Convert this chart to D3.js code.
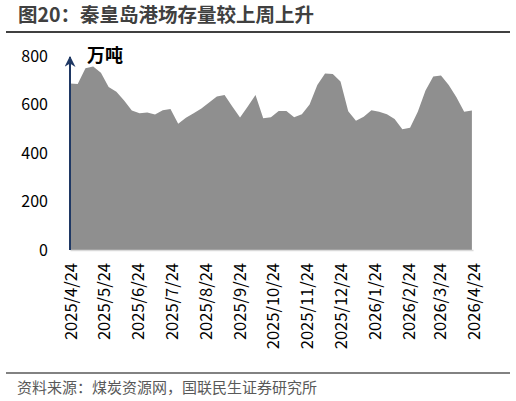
<!DOCTYPE html>
<html>
<head>
<meta charset="utf-8">
<script src="https://cdn.jsdelivr.net/npm/d3@7"></script>
<style>
  body { margin: 0; background: #fff; }
  svg { display: block; font-family: "Noto Sans CJK SC", "Noto Sans", sans-serif; }
</style>
</head>
<body>
<svg id="chart" width="516" height="401"></svg>
<script>
// weekly port stock, 10k tonnes
const weeks = [
  '2025-04-24', '2025-05-01', '2025-05-08', '2025-05-15', '2025-05-22', '2025-05-29',
  '2025-06-05', '2025-06-12', '2025-06-19', '2025-06-26', '2025-07-03', '2025-07-10',
  '2025-07-17', '2025-07-24', '2025-07-31', '2025-08-07', '2025-08-14', '2025-08-21',
  '2025-08-28', '2025-09-04', '2025-09-11', '2025-09-18', '2025-09-25', '2025-10-02',
  '2025-10-09', '2025-10-16', '2025-10-23', '2025-10-30', '2025-11-06', '2025-11-13',
  '2025-11-20', '2025-11-27', '2025-12-04', '2025-12-11', '2025-12-18', '2025-12-25',
  '2026-01-01', '2026-01-08', '2026-01-15', '2026-01-22', '2026-01-29', '2026-02-05',
  '2026-02-12', '2026-02-19', '2026-02-26', '2026-03-05', '2026-03-12', '2026-03-19',
  '2026-03-26', '2026-04-02', '2026-04-09', '2026-04-16', '2026-04-23',
];
const stock = [
  687, 685, 750, 757, 731, 672, 653, 616, 575, 564, 567, 559,
  576, 581, 521, 545, 564, 584, 608, 633, 639, 592, 546, 592,
  639, 543, 547, 573, 573, 547, 560, 600, 680, 728, 726, 695,
  572, 533, 550, 576, 570, 560, 540, 498, 504, 570, 658, 715,
  720, 680, 630, 570, 575,
];
const monthTicks = [
  '2025-04-24', '2025-05-24', '2025-06-24', '2025-07-24', '2025-08-24', '2025-09-24',
  '2025-10-24', '2025-11-24', '2025-12-24', '2026-01-24', '2026-02-24', '2026-03-24',
  '2026-04-24',
];
const yTicks = [0, 200, 400, 600, 800];

const parse = d3.timeParse('%Y-%m-%d');
const data = weeks.map((d, i) => ({ date: parse(d), value: stock[i] }));

const svg = d3.select('#chart');
const plot = { left: 70, right: 473, top: 56, bottom: 250 };

const x = d3.scaleTime()
  .domain([parse(monthTicks[0]), parse(monthTicks[monthTicks.length - 1])])
  .range([plot.left, plot.right]);
const y = d3.scaleLinear().domain([0, 800]).range([plot.bottom, plot.top]);

// title
svg.append('text')
  .attr('x', 18).attr('y', 22)
  .attr('font-size', 19.5).attr('font-weight', 'bold').attr('fill', '#404040')
  .text('图20：秦皇岛港场存量较上周上升');
svg.append('line')
  .attr('x1', 6).attr('x2', 510).attr('y1', 32).attr('y2', 32)
  .attr('stroke', '#404040').attr('stroke-width', 2);

// area
const area = d3.area()
  .x(d => x(d.date))
  .y0(y(0))
  .y1(d => y(d.value));
svg.append('path')
  .datum(data)
  .attr('d', area)
  .attr('fill', '#8f8f8f');

// x axis
const xAxis = d3.axisBottom(x)
  .tickValues(monthTicks.map(parse))
  .tickFormat(d3.timeFormat('%Y/%-m/%-d'))
  .tickSize(0)
  .tickSizeOuter(0);
const gx = svg.append('g')
  .attr('transform', `translate(0,${plot.bottom})`)
  .call(xAxis);
gx.select('.domain').attr('stroke', '#d9d9d9').attr('stroke-width', 1.5);
gx.selectAll('text')
  .attr('transform', 'rotate(-90)')
  .attr('x', -13).attr('y', 0).attr('dy', '0.4em')
  .attr('text-anchor', 'end')
  .attr('font-size', 16.5).attr('fill', '#000')
  .style('font-family', '"Noto Sans CJK SC", sans-serif');

// y axis
const yAxis = d3.axisLeft(y).tickValues(yTicks).tickSize(0).tickPadding(22);
const gy = svg.append('g')
  .attr('transform', `translate(${plot.left},0)`)
  .call(yAxis);
gy.select('.domain').remove();
gy.selectAll('text')
  .attr('font-size', 16).attr('fill', '#000')
  .style('font-family', '"Noto Sans CJK SC", sans-serif');

// arrow axis line
svg.append('defs').append('marker')
  .attr('id', 'arrow')
  .attr('viewBox', '0 0 10 10')
  .attr('refX', 9).attr('refY', 5)
  .attr('markerWidth', 11).attr('markerHeight', 11)
  .attr('markerUnits', 'userSpaceOnUse')
  .attr('orient', 'auto')
  .append('path')
  .attr('d', 'M0,0 L10,5 L0,10 L3,5 Z')
  .attr('fill', '#1f3864');
svg.append('line')
  .attr('x1', plot.left).attr('x2', plot.left)
  .attr('y1', plot.bottom).attr('y2', plot.top + 1)
  .attr('stroke', '#1f3864').attr('stroke-width', 2)
  .attr('marker-end', 'url(#arrow)');

svg.append('text')
  .attr('x', 87).attr('y', 62)
  .attr('font-size', 18).attr('font-weight', 'bold').attr('fill', '#000')
  .text('万吨');

// source
svg.append('line')
  .attr('x1', 6).attr('x2', 510).attr('y1', 373).attr('y2', 373)
  .attr('stroke', '#595959').attr('stroke-width', 1.5);
svg.append('text')
  .attr('x', 17).attr('y', 393)
  .attr('font-size', 15).attr('fill', '#595959')
  .text('资料来源：煤炭资源网，国联民生证券研究所');
</script>
</body>
</html>
